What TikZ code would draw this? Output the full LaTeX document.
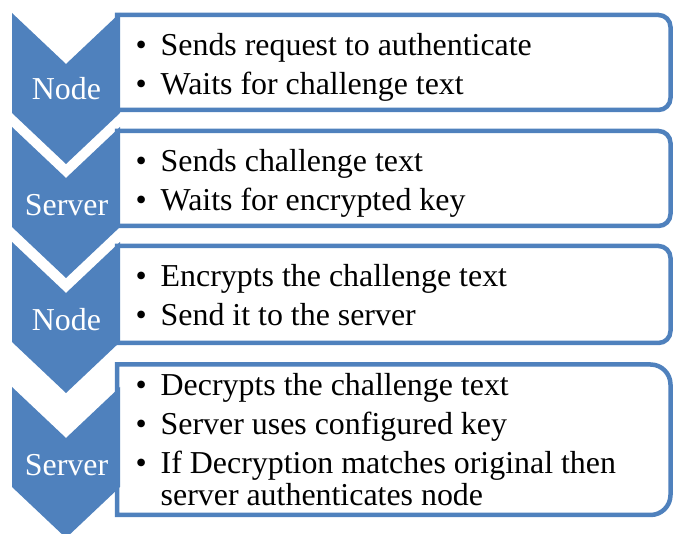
\documentclass[tikz,border=0pt]{standalone}
\usepackage{fontspec}
\setmainfont{Liberation Serif}
\usepackage{tikz}
\definecolor{chevblue}{RGB}{79,129,189}
\tikzset{
  figfont/.style={font=\fontsize{31.9}{32}\selectfont},
  chevshape/.style={fill=chevblue, draw=none},
  chevtext/.style={figfont, text=white, inner sep=0pt},
  listbox/.style={draw=chevblue, line width=4.5pt, fill=white},
  listtext/.style={figfont, anchor=base west, inner sep=0pt},
}
\newcommand{\bul}{\makebox[25pt][l]{\textbullet}}

\begin{document}
\begin{tikzpicture}[x=1pt, y=1pt]
		\useasboundingbox (0,0) rectangle (673,534);

		% Text boxes, rounded on the right side only
		\draw[listbox] (117,519) -- (658.5,519) arc[start angle=90, end angle=0, radius=12]
			-- (670.5,436) arc[start angle=0, end angle=-90, radius=12] -- (117,424) -- cycle;
		\draw[listbox] (117,403) -- (658.5,403) arc[start angle=90, end angle=0, radius=12]
			-- (670.5,320) arc[start angle=0, end angle=-90, radius=12] -- (117,308) -- cycle;
		\draw[listbox] (117,288) -- (658.5,288) arc[start angle=90, end angle=0, radius=12]
			-- (670.5,203) arc[start angle=0, end angle=-90, radius=12] -- (117,191) -- cycle;
		\draw[listbox] (117,169.5) -- (650.5,169.5) arc[start angle=90, end angle=0, radius=20]
			-- (670.5,39) arc[start angle=0, end angle=-90, radius=20] -- (117,19) -- cycle;

		% Chevrons
		\fill[chevshape] (12,521) -- (66,470) -- (120,521) -- (120,421) -- (66,370) -- (12,421) -- cycle;
		\fill[chevshape] (12,407) -- (66,356) -- (120,407) -- (120,307) -- (66,256) -- (12,307) -- cycle;
		\fill[chevshape] (12,292) -- (66,241) -- (120,292) -- (120,192) -- (66,141) -- (12,192) -- cycle;
		\fill[chevshape] (12,147) -- (66,96) -- (120,147) -- (120,47) -- (66,-4) -- (12,47) -- cycle;

		% Chevron labels
		\node[chevtext] (who1) at (66.5,445) {Node};
		\node[chevtext] (who2) at (66.5,329) {Server};
		\node[chevtext] (who3) at (66.5,214) {Node};
		\node[chevtext] (who4) at (66.5,69) {Server};

		% Step texts
		\node[listtext] (step1) at (135.5,478.5) {\begin{tabular}[t]{@{}l@{}l@{}}
			\bul & Sends request to authenticate\\[7pt]
			\bul & Waits for challenge text
		\end{tabular}};
		\node[listtext] (step2) at (135.5,362.5) {\begin{tabular}[t]{@{}l@{}l@{}}
			\bul & Sends challenge text\\[7pt]
			\bul & Waits for encrypted key
		\end{tabular}};
		\node[listtext] (step3) at (135.5,247) {\begin{tabular}[t]{@{}l@{}l@{}}
			\bul & Encrypts the challenge text\\[7pt]
			\bul & Send it to the server
		\end{tabular}};
		\node[listtext] (step4) at (135.5,138.5) {\begin{tabular}[t]{@{}l@{}l@{}}
			\bul & Decrypts the challenge text\\[7pt]
			\bul & Server uses configured key\\[7pt]
			\bul & If Decryption matches original then\\
			     & server authenticates node
		\end{tabular}};
	\end{tikzpicture}
\end{document}
